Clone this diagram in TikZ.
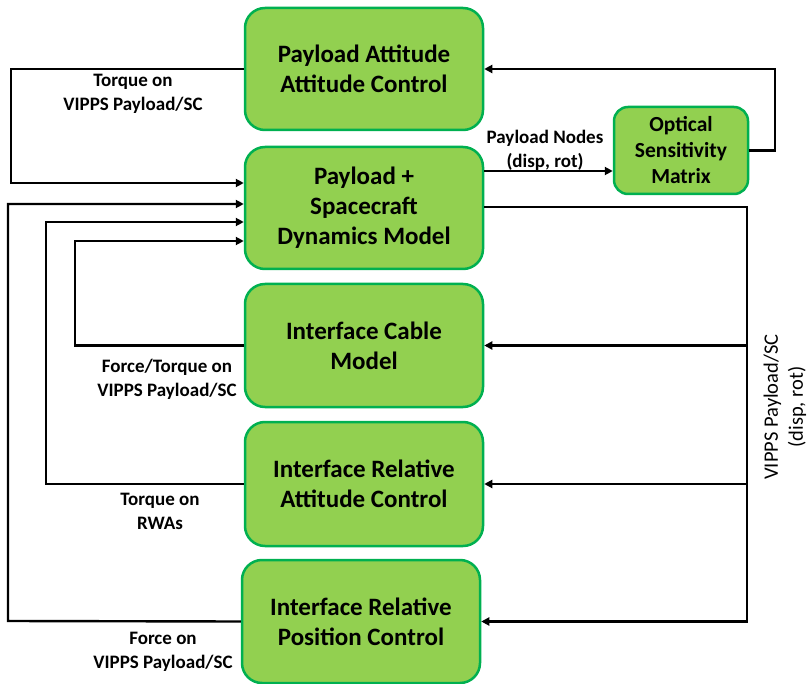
\documentclass[tikz,border=0pt]{standalone}
\usepackage{fontspec}
\setmainfont{Carlito}
\usetikzlibrary{arrows.meta,calc}
\definecolor{boxfill}{HTML}{92D050}
\definecolor{boxline}{HTML}{00B050}
\begin{document}
\begin{tikzpicture}[x=1pt,y=-1pt,
  blk/.style={draw=boxline,fill=boxfill,line width=2.5pt,rounded corners=20pt,
    minimum width=238pt,minimum height=122pt,inner sep=0pt,align=center,
    font=\fontsize{25}{30}\selectfont\bfseries},
  lbl/.style={align=center,inner sep=0pt,font=\fontsize{19}{24}\selectfont\bfseries},
  con/.style={line width=2.4pt,line join=miter},
  arr/.style={con,-{Triangle[length=8pt,width=8pt]}}]
\useasboundingbox (0,0) rectangle (808,684);
\node[blk] (PAC) at (364,69) {Payload Attitude\\Attitude Control};
\node[blk] (Dyn) at (364,208) {Payload +\\Spacecraft\\Dynamics Model};
\node[blk,minimum height=123pt] (Cab) at (364,345.5) {Interface Cable\\Model};
\node[blk,minimum height=124pt] (IRA) at (364,484) {Interface Relative\\Attitude Control};
\node[blk,minimum height=123pt] (IRP) at (361,621.5) {Interface Relative\\Position Control};
\node[blk,minimum width=134pt,minimum height=87pt,rounded corners=14pt,
  font=\fontsize{21.5}{26}\selectfont\bfseries] (Opt) at (681,150.5) {Optical\\Sensitivity\\Matrix};

\coordinate (c1a) at (11,69);
\coordinate (c1b) at (11,183);
\coordinate (c2a) at (8,621);
\coordinate (c2b) at (8,204);
\coordinate (c3a) at (46,484);
\coordinate (c3b) at (46,222);
\coordinate (c4a) at (75,345.5);
\coordinate (c4b) at (75,241);
\coordinate (c6a) at (775,150.5);
\coordinate (c6b) at (775,69);
\coordinate (c7a) at (747,207);
\coordinate (c7b) at (747,345.5);
\coordinate (c7c) at (747,484);
\coordinate (c7d) at (747,621.5);

\draw[arr] (PAC.west) -- (c1a) -- (c1b) -- (Dyn.west |- c1b);
\draw[arr] (IRP.west) -- (c2a) -- (c2b) -- (Dyn.west |- c2b);
\draw[arr] (IRA.west) -- (c3a) -- (c3b) -- (Dyn.west |- c3b);
\draw[arr] (Cab.west) -- (c4a) -- (c4b) -- (Dyn.west |- c4b);
\draw[arr] ($(Dyn.east)+(0,-37)$) -- ($(Opt.west)+(0,20.5)$);
\draw[arr] (Opt.east) -- (c6a) -- (c6b) -- (PAC.east);
\draw[arr] (Dyn.east |- c7a) -- (c7a) -- (c7d) -- (IRP.east);
\draw[arr] (c7b) -- (Cab.east);
\draw[arr] (c7c) -- (IRA.east);

\node[lbl] (l1) at (133,94) {Torque on\\VIPPS Payload/SC};
\node[lbl] (l2) at (545,150) {Payload Nodes\\(disp, rot)};
\node[lbl] (l3) at (167,379) {Force/Torque on\\VIPPS Payload/SC};
\node[lbl] (l4) at (160,511) {Torque on\\RWAs};
\node[lbl] (l5) at (163,652) {Force on\\VIPPS Payload/SC};
\node[align=center,inner sep=0pt,rotate=90,font=\fontsize{20.5}{25}\selectfont] (l6) at (785,407) {VIPPS Payload/SC\\(disp, rot)};
\end{tikzpicture}
\end{document}
